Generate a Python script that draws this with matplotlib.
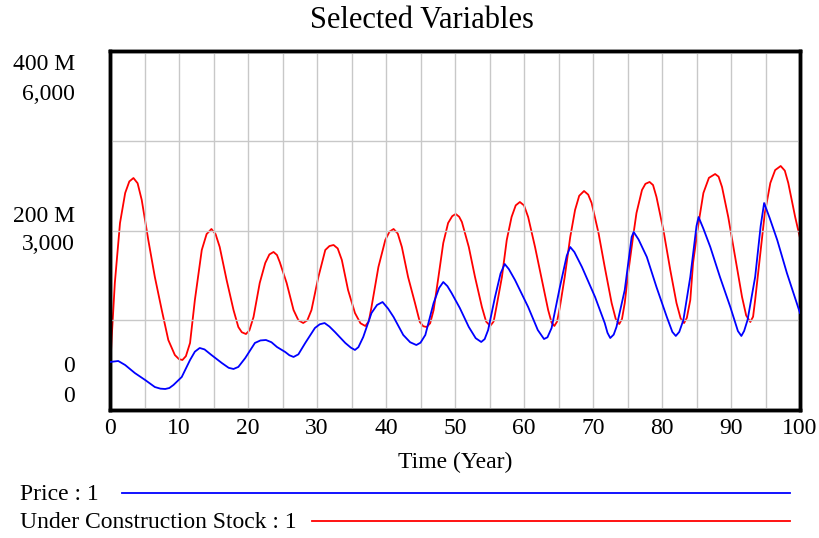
import matplotlib
matplotlib.use("Agg")
import matplotlib.pyplot as plt
from matplotlib.lines import Line2D

plt.rcParams['font.family'] = ['Liberation Serif', 'DejaVu Serif']

# valores (Vensim) - Under Construction Stock
tempo_ucs = [0, 0.25, 0.7, 1.45, 2.2, 2.8, 3.4, 4.0, 4.6, 5.55, 6.5, 7.5, 8.45, 9.4, 10.0, 10.5,
             11.0, 11.6, 12.3, 13.3, 14.0, 14.7, 15.3, 15.9, 16.9, 17.9, 18.6, 19.1, 19.7,
             20.2, 20.8, 21.7, 22.5, 23.1, 23.7, 24.2, 24.6, 25.6, 26.6, 27.3, 28.0, 28.6,
             29.2, 30.2, 31.2, 31.8, 32.4, 33.0, 33.6, 34.5, 35.5, 36.3, 37.0, 37.5, 37.9,
             38.9, 39.9, 40.5, 41.1, 41.7, 42.3, 43.2, 44.2, 44.9, 45.4, 45.9, 46.4, 46.9,
             47.6, 48.3, 49.0, 49.6, 50.1, 50.6, 51.0, 52.0, 52.9, 53.9, 54.5, 55.1, 55.6,
             56.0, 56.8, 57.5, 58.2, 58.8, 59.4, 60.0, 60.6, 61.6, 62.6, 63.5, 64.0, 64.4,
             64.8, 65.2, 65.9, 66.7, 67.4, 68.0, 68.7, 69.3, 69.8, 70.8, 71.7, 72.7, 73.3,
             73.8, 74.2, 74.6, 75.1, 75.8, 76.3, 77.1, 77.6, 78.2, 78.7, 79.2, 80.2, 81.2,
             82.1, 82.7, 83.2, 83.6, 84.1, 84.5, 85.3, 86.0, 86.8, 87.7, 88.2, 88.7, 89.6,
             90.6, 91.6, 92.2, 92.8, 93.2, 93.5, 94.2, 94.9, 95.7, 96.4, 97.2, 97.8, 98.3,
             99.3, 100]
under_construction = [635, 1220, 2123, 3125, 3627, 3820, 3877, 3790, 3510, 2841, 2223, 1671,
                      1170, 919, 850, 836, 900, 1120, 1838, 2674, 2940, 3025, 2940, 2724,
                      2173, 1671, 1387, 1300, 1270, 1330, 1554, 2123, 2457, 2600, 2641, 2590,
                      2473, 2123, 1671, 1500, 1454, 1500, 1671, 2223, 2674, 2740, 2758, 2700,
                      2507, 2006, 1621, 1450, 1404, 1480, 1721, 2390, 2841, 2980, 3025, 2950,
                      2724, 2223, 1788, 1471, 1400, 1387, 1450, 1671, 2223, 2791, 3125, 3240,
                      3276, 3230, 3142, 2724, 2223, 1721, 1480, 1404, 1480, 1721, 2223, 2841,
                      3226, 3420, 3476, 3420, 3226, 2724, 2173, 1671, 1460, 1404, 1480, 1721,
                      2223, 2891, 3343, 3580, 3660, 3600, 3460, 2958, 2390, 1788, 1520, 1437,
                      1520, 1788, 2290, 2891, 3292, 3677, 3780, 3811, 3760, 3560, 3008, 2340,
                      1788, 1530, 1454, 1540, 1838, 2457, 3125, 3627, 3880, 3944, 3900, 3727,
                      3226, 2557, 1889, 1580, 1471, 1560, 1838, 2557, 3292, 3794, 4010, 4078,
                      4000, 3794, 3226, 2875]

# Price (milhoes)
tempo_preco = [0, 1.2, 2.2, 3.6, 5.1, 6.5, 7.3, 8.0, 8.6, 9.2, 10.4, 11.6, 12.3, 13.0, 13.7,
               14.7, 16.2, 17.2, 17.9, 18.6, 19.6, 21.0, 21.8, 22.6, 23.4, 24.2, 25.4, 26.0,
               26.6, 27.3, 28.3, 29.7, 30.4, 31.1, 31.8, 32.6, 34.1, 34.9, 35.5, 36.0, 36.7,
               37.9, 38.7, 39.5, 40.3, 41.1, 42.5, 43.5, 44.4, 45.0, 45.7, 46.9, 47.7, 48.3,
               48.9, 49.5, 50.7, 52.0, 53.0, 53.8, 54.3, 54.8, 55.8, 56.6, 57.2, 57.8, 58.7,
               60.6, 62.0, 62.9, 63.4, 64.0, 65.2, 66.2, 66.7, 67.3, 68.4, 70.3, 71.7, 72.1,
               72.5, 73.0, 73.4, 74.6, 75.6, 75.9, 76.6, 77.8, 79.2, 80.7, 81.5, 82.0, 82.5,
               83.1, 84.1, 85.0, 85.3, 86.0, 87.0, 88.4, 89.9, 91.0, 91.5, 91.9, 92.4, 93.5,
               94.3, 94.8, 95.6, 96.7, 98.1, 100]
preco = [53.5, 54.6, 50.1, 41.2, 33.4, 25.6, 23.8, 23.4, 24.5, 27.9, 36.8, 55.7, 65.0, 69.1,
         67.5, 61.3, 52.4, 47.0, 45.7, 48.0, 57.9, 74.7, 77.5, 78.0, 75.5, 70.2, 64.6, 61.0,
         59.1, 62.0, 74.7, 91.4, 95.5, 96.9, 93.0, 86.9, 74.7, 69.5, 66.9, 70.0, 81.3, 108.1,
         117.0, 120.3, 113.0, 103.6, 83.6, 75.5, 72.4, 75.0, 83.6, 119.2, 136.0, 142.6, 138.0,
         130.4, 113.6, 92.5, 80.0, 75.8, 79.0, 89.1, 125.9, 152.0, 162.7, 157.0, 144.8, 114.8,
         89.1, 79.1, 81.0, 91.4, 137.0, 172.0, 181.6, 176.0, 159.3, 125.9, 96.9, 86.0, 80.2,
         84.0, 92.5, 133.7, 192.8, 198.3, 190.0, 170.5, 137.0, 103.6, 87.0, 82.5, 87.0, 100.3,
         148.2, 205.0, 215.0, 202.0, 181.6, 148.2, 114.8, 88.0, 82.5, 88.0, 100.3, 148.2,
         205.0, 230.6, 214.0, 189.4, 152.6, 108.1]
preco = [p * 1e6 for p in preco]

xticks = list(range(0, 101, 10))
# rotulos do eixo y (Price, Under Construction Stock)
rotulos_y = [("400 M", "6,000"), ("200 M", "3,000"), ("0", "0")]

fig = plt.figure(figsize=(8.19, 5.38), dpi=100)
ax = fig.add_axes([110 / 819, 128 / 538, 690 / 819, 359 / 538])
ax2 = ax.twinx()

ax.plot(tempo_preco, preco, color='#0000ff', lw=1.3, zorder=3)
ax2.plot(tempo_ucs, under_construction, color='#ff0000', lw=1.3)

ax.set_xlim(0, 100)
ax.set_ylim(0, 400e6)
ax2.set_ylim(0, 6000)

ax.set_xticks(xticks)
ax.set_xticks(range(5, 100, 10), minor=True)
ax.set_yticks([0, 100e6, 200e6, 300e6, 400e6])
ax.set_yticklabels([])
ax.set_xticklabels([str(x) for x in xticks], fontsize=17)
ax.tick_params(axis='both', which='both', length=0)
ax.tick_params(axis='x', pad=6)
ax.grid(True, which='both', color='#c8c8c8', lw=1)
ax.set_axisbelow(True)
ax2.set_yticks([])
ax2.set_zorder(ax.get_zorder() - 1)
ax.patch.set_visible(False)

for sp in list(ax.spines.values()) + list(ax2.spines.values()):
    sp.set_linewidth(2.5)
    sp.set_color('black')

# rotulos empilhados a esquerda, como no Vensim
pos_y = [(65, 95), (216, 244), (367, 396)]
for (a, b), (ya, yb) in zip(rotulos_y, pos_y):
    fig.text(75 / 819, 1 - ya / 538, a, fontsize=17, ha='right', va='center')
    fig.text(75 / 819, 1 - yb / 538, b, fontsize=17, ha='right', va='center')

ax.set_xlabel("Time (Year)", fontsize=17, labelpad=9)
fig.text(422 / 819, 1 - 20 / 538, "Selected Variables", fontsize=22, ha='center', va='center')

# legenda
fig.text(20 / 819, 1 - 494 / 538, "Price : 1", fontsize=17, va='center')
fig.add_artist(Line2D([122 / 819, 790 / 819], [1 - 493 / 538] * 2, color='#0000ff', lw=1.3,
                      transform=fig.transFigure))
fig.text(20 / 819, 1 - 522 / 538, "Under Construction Stock : 1", fontsize=17, va='center')
fig.add_artist(Line2D([312 / 819, 790 / 819], [1 - 521 / 538] * 2, color='#ff0000', lw=1.3,
                      transform=fig.transFigure))

fig.savefig("out.png", dpi=100)
